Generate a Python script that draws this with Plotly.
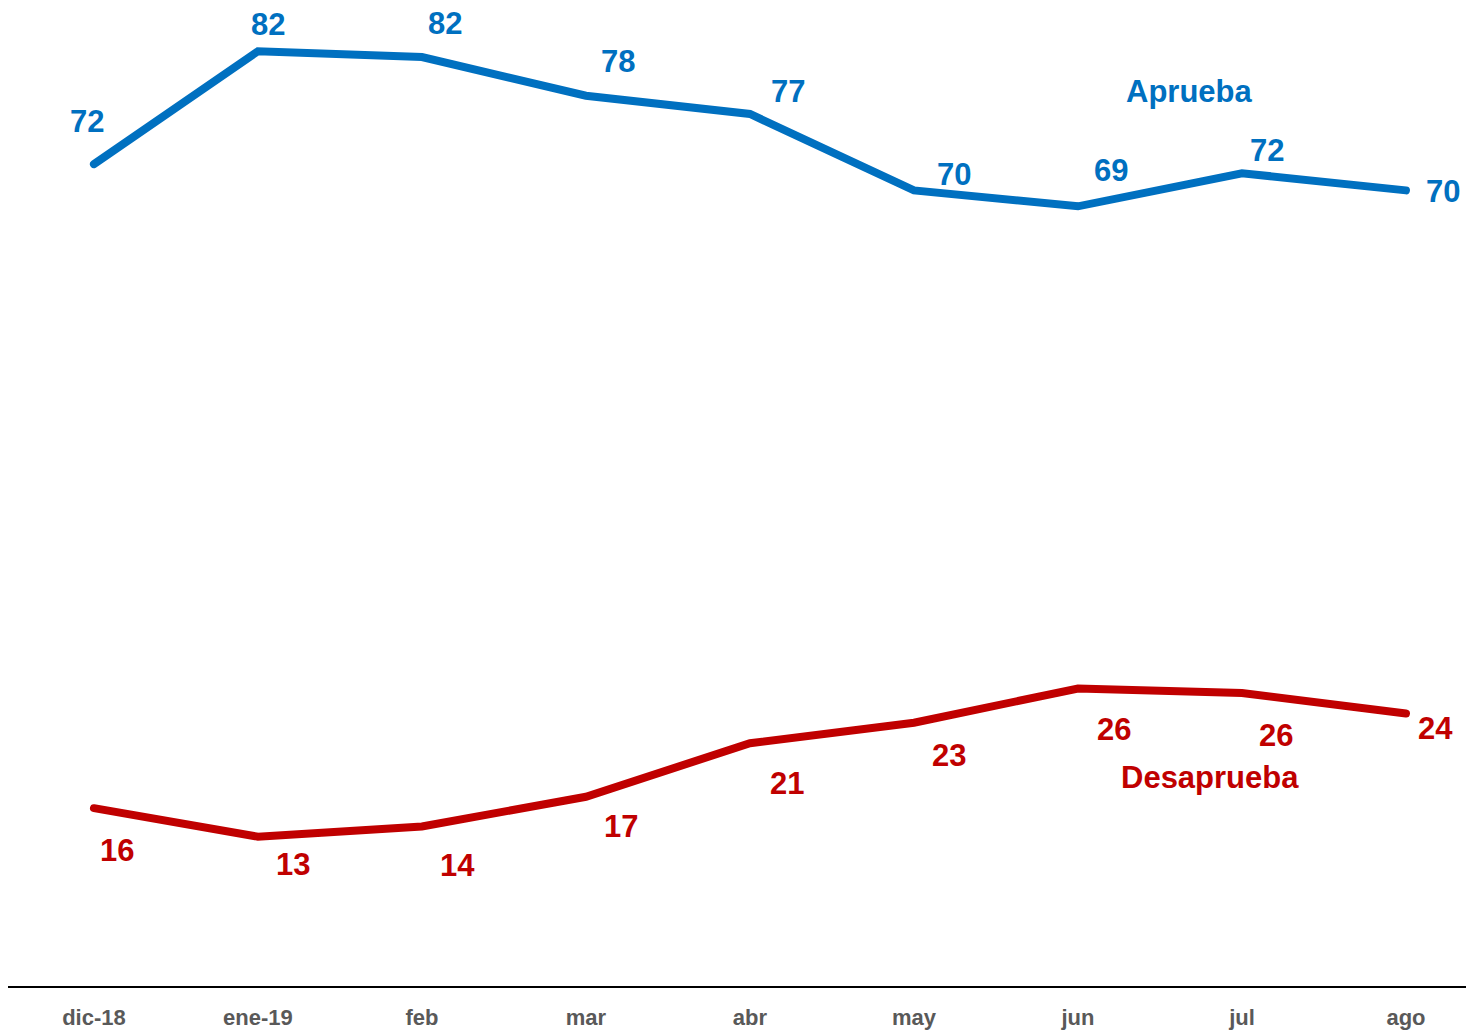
import plotly.graph_objects as go

categories = ["dic-18", "ene-19", "feb", "mar", "abr", "may", "jun", "jul", "ago"]
aprueba = [72.1, 82.0, 81.5, 78.1, 76.5, 69.8, 68.4, 71.3, 69.8]
aprueba_labels = ["72", "82", "82", "78", "77", "70", "69", "72", "70"]
desaprueba = [15.6, 13.1, 14.0, 16.6, 21.3, 23.1, 26.1, 25.7, 23.9]
desaprueba_labels = ["16", "13", "14", "17", "21", "23", "26", "26", "24"]

BLUE = "#0070C0"
RED = "#C00000"
LABEL_FONT = "Liberation Sans, Arial, sans-serif"
TICK_FONT = "Liberation Sans, Arial, sans-serif"

# label offsets in pixels (dx, dy with dy positive downward)
ap_off = [(-7, -43), (10, -27), (23, -33), (32, -34), (38, -22), (40, -16), (33, -36), (25, -23), (37, 1)]
de_off = [(23, 42), (35, 28), (36, 39), (35, 30), (37, 40), (35, 33), (36, 41), (34, 42), (30, 15)]

fig = go.Figure()
fig.add_trace(go.Scatter(x=categories, y=aprueba, mode="lines", name="Aprueba",
                         line=dict(color=BLUE, width=8), hoverinfo="skip"))
fig.add_trace(go.Scatter(x=categories, y=desaprueba, mode="lines", name="Desaprueba",
                         line=dict(color=RED, width=8), hoverinfo="skip"))

annotations = []
for i, (c, v, t) in enumerate(zip(categories, aprueba, aprueba_labels)):
    dx, dy = ap_off[i]
    annotations.append(dict(x=c, y=v, text=t, showarrow=False, xshift=dx, yshift=-dy,
                            font=dict(family=LABEL_FONT, size=31, color=BLUE, weight="bold")))
for i, (c, v, t) in enumerate(zip(categories, desaprueba, desaprueba_labels)):
    dx, dy = de_off[i]
    annotations.append(dict(x=c, y=v, text=t, showarrow=False, xshift=dx, yshift=-dy,
                            font=dict(family=LABEL_FONT, size=31, color=RED, weight="bold")))

annotations.append(dict(x=6.683, y=78.5, xref="x", yref="y", text="Aprueba", showarrow=False,
                        font=dict(family=LABEL_FONT, size=31, color=BLUE, weight="bold")))
annotations.append(dict(x=6.805, y=18.25, xref="x", yref="y", text="Desaprueba", showarrow=False,
                        font=dict(family=LABEL_FONT, size=31, color=RED, weight="bold")))

fig.update_layout(
    width=1466, height=1031,
    margin=dict(l=8, r=0, t=0, b=45),
    paper_bgcolor="white", plot_bgcolor="white",
    showlegend=False,
    annotations=annotations,
    xaxis=dict(type="category", range=[-0.524, 8.366], showgrid=False, zeroline=False,
               showline=True, linecolor="black", linewidth=2,
               ticks="outside", ticklen=11, tickcolor="rgba(0,0,0,0)",
               tickfont=dict(family=TICK_FONT, size=22, color="#595959", weight="bold")),
    yaxis=dict(range=[0, 86.5], showgrid=False, zeroline=False, showline=False,
               showticklabels=False, ticks=""),
)

post_js = """
document.body.style.margin='0';
document.body.style.overflow='hidden';
var gd = document.getElementById('{plot_id}');
function tweak(){
  gd.querySelectorAll('.scatterlayer .js-line').forEach(function(p){
    p.style.strokeLinecap='round';
  });
}
tweak();
gd.on('plotly_afterplot', tweak);
"""

fig.write_html("out.html", config={"displayModeBar": False}, post_script=post_js)
